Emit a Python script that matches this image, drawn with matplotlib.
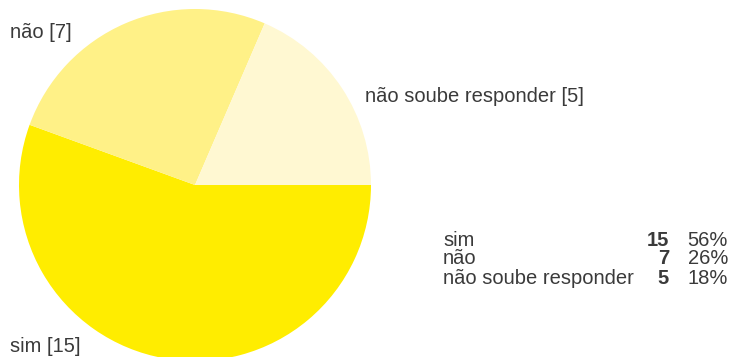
import matplotlib
matplotlib.use("Agg")
import matplotlib.pyplot as plt

categories = ["sim", "não", "não soube responder"]
counts = [15, 7, 5]
percents = [56, 26, 18]
colors = ["#FFED00", "#FFF187", "#FFF8D2"]

W, H = 731, 357
plt.rcParams['font.family'] = ['Liberation Sans', 'DejaVu Sans']
text_color = "#3a3a3a"
fs = 14.5

fig = plt.figure(figsize=(W / 100, H / 100), dpi=100)
ax = fig.add_axes([0, 0, 1, 1])

cx, cy, r = 195, H - 185, 176
ax.pie(counts, colors=colors, startangle=0, counterclock=False,
       center=(cx, cy), radius=r, frame=True,
       wedgeprops=dict(linewidth=0))
ax.set_xlim(0, W)
ax.set_ylim(0, H)
ax.set_aspect("equal")
ax.axis("off")

# slice labels
label_pos = {"sim": (10, 347),
             "não": (10, 33),
             "não soube responder": (365, 97)}
for cat, n in zip(categories, counts):
    x, y = label_pos[cat]
    ax.text(x, H - y, f"{cat} [{n}]", fontsize=fs, color=text_color,
            ha="left", va="center")

# summary table
row_y = [240, 259, 278]
for cat, n, p, y in zip(categories, counts, percents, row_y):
    ax.text(443, H - y, cat, fontsize=fs, color=text_color, ha="left", va="center")
    ax.text(669, H - y, str(n), fontsize=fs, color=text_color, ha="right",
            va="center", fontweight="bold")
    ax.text(728, H - y, f"{p}%", fontsize=fs, color=text_color,
            ha="right", va="center")

fig.savefig("out.png", dpi=100)
